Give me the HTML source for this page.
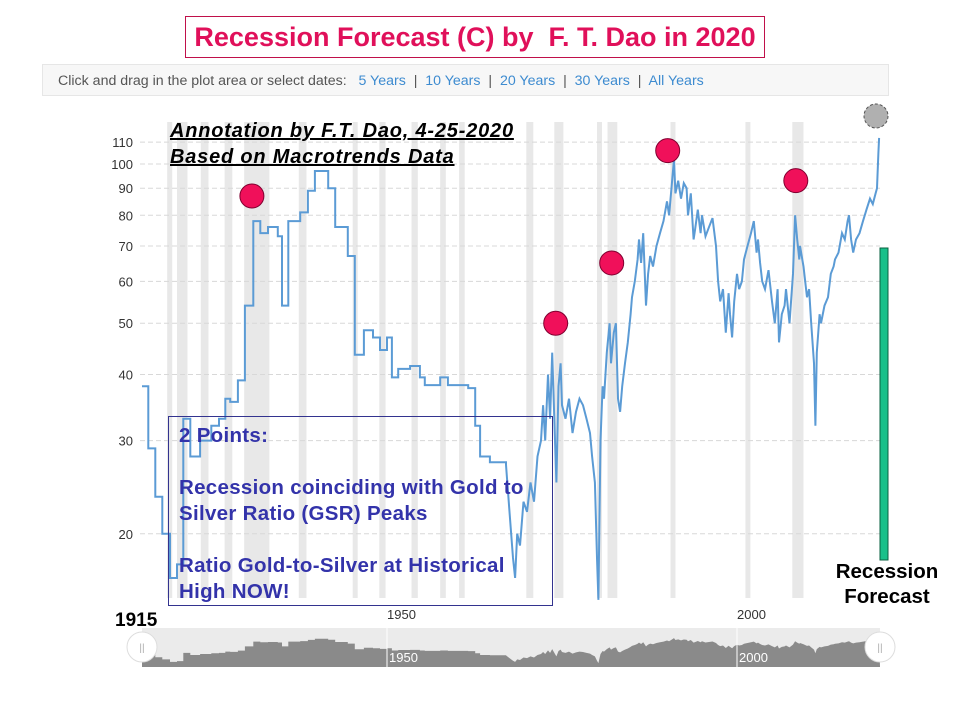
<!DOCTYPE html>
<html><head><meta charset="utf-8"><style>
body{margin:0;background:#fff;width:960px;height:720px;overflow:hidden;font-family:"Liberation Sans",sans-serif}
</style></head><body>
<svg id="c" width="960" height="720" style="position:absolute;left:0;top:0"></svg>
<script>
const recessionStarts=[1918.6,1920.0,1923.4,1926.8,1929.6,1937.4,1945.1,1948.9,1953.5,1957.6,1960.3,1969.9,1973.9,1980.0,1981.5,1990.5,2001.2,2007.9];
const recessionEnds=[1919.2,1921.5,1924.5,1927.9,1933.2,1938.5,1945.8,1949.8,1954.4,1958.4,1961.1,1970.9,1975.2,1980.5,1982.9,1991.2,2001.9,2009.5];
const stepYears=[1915.0,1915.9,1916.9,1917.9,1919.0,1920.0,1920.9,1921.9,1923.3,1924.9,1926.0,1926.9,1927.6,1928.7,1929.7,1930.9,1931.9,1933.0,1934.4,1935.0,1935.9,1937.6,1938.7,1939.7,1941.6,1942.6,1944.4,1945.4,1946.7,1948.0,1949.0,1950.0,1950.7,1951.6,1953.3,1954.7,1955.4,1957.6,1958.7,1961.6,1962.6,1963.3,1964.7,1967.0];
const stepValues=[38,29,23.5,20,16.5,17.5,33,28,30,32,33,36,35.5,39,54,78,74,76,73,54,78,81,89,97,90,76,67,43.6,48.5,47,44.5,47,39.5,41,41.5,39.5,38.2,39.5,38.2,37.7,32,28,27.3,27];
const lineYears=[1967.0,1967.5,1968,1968.3,1968.6,1969,1969.5,1970,1970.5,1971,1971.5,1972,1972.3,1972.6,1973,1973.3,1973.6,1974,1974.2,1974.5,1974.8,1975,1975.5,1976,1976.5,1977,1977.5,1978,1978.5,1979,1979.3,1979.7,1980,1980.2,1980.5,1980.8,1981,1981.4,1981.8,1982,1982.4,1982.7,1983,1983.3,1983.6,1984,1984.4,1984.8,1985,1985.4,1985.8,1986,1986.3,1986.6,1987,1987.3,1987.6,1988,1988.5,1989,1989.5,1990,1990.3,1990.7,1991,1991.2,1991.6,1992,1992.4,1992.8,1993,1993.4,1993.8,1994,1994.4,1994.8,1995,1995.5,1996,1996.5,1997,1997.3,1997.6,1998,1998.4,1998.8,1999,1999.3,1999.6,2000,2000.3,2000.7,2001,2001.5,2002,2002.4,2002.8,2003,2003.3,2003.6,2004,2004.5,2005,2005.4,2005.8,2006,2006.4,2006.8,2007,2007.5,2008,2008.3,2008.6,2008.9,2009,2009.5,2010,2010.3,2010.6,2011,2011.2,2011.4,2011.8,2012,2012.5,2013,2013.4,2013.8,2014,2014.5,2015,2015.4,2015.8,2016,2016.3,2016.6,2017,2017.5,2018,2018.5,2019,2019.4,2019.8,2020.0,2020.2,2020.3];
const lineValues=[27,22,18,16.5,20,19,23,22,25,23,28,30,35,30,40,33,44,30,25,38,42,35,33,36,31,34,36,35,33,31,28,25,18,15,30,38,36,44,50,42,48,50,36,34,38,42,46,52,56,60,66,72,65,74,54,62,67,64,70,74,78,85,80,92,102,88,93,86,92,90,80,88,72,75,82,74,80,73,76,79,70,60,55,58,48,57,52,47,55,62,58,60,66,70,74,78,68,72,65,60,58,63,55,50,58,46,52,54,58,50,62,80,72,66,70,64,56,58,50,42,32,44,52,50,54,56,62,64,66,68,74,72,78,80,72,68,72,74,78,82,86,84,88,90,105,112];
const yTicks=[20,30,40,50,60,70,80,90,100,110];
const peakYears=[1930.7,1974.1,1982.1,1990.1,2008.4];
const peakValues=[87,50,65,106,93];

const NS='http://www.w3.org/2000/svg';
const svg=document.getElementById('c');
function X(y){return 142+(y-1915)*7.0;}
function Y(v){return 164+(Math.log10(100)-Math.log10(v))*529;}
function NY(v){return 666-(Math.log10(v)-Math.log10(12))*30;}
function mk(t,a,p){const e=document.createElementNS(NS,t);for(const k in a)e.setAttribute(k,a[k]);(p||svg).appendChild(e);return e;}

recessionStarts.forEach((s,i)=>{const r=mk('rect',{x:X(s),y:122,width:Math.max(5,X(recessionEnds[i])-X(s)),height:476,fill:'#e8e8e8'});

});
yTicks.forEach(t=>{const l=mk('line',{x1:140,x2:880,y1:Y(t),y2:Y(t),stroke:'#d8d8d8','stroke-dasharray':'5,3'});


const tx=mk('text',{x:133,y:Y(t)+5,'text-anchor':'end','font-size':13,fill:'#333'});tx.textContent=t;

});
let d='';
stepYears.forEach((yr,i)=>{const x=X(yr),y=Y(stepValues[i]);d+=(i?'L'+x+' '+Y(stepValues[i-1])+'L':'M')+x+' '+y;});
d+='L'+X(lineYears[0])+' '+Y(lineValues[0]);
lineYears.forEach((yr,i)=>{d+='L'+X(yr)+' '+Y(lineValues[i]);});
const p=mk('path',{d:d,fill:'none',stroke:'#5b9bd5','stroke-width':2});


peakYears.forEach((yr,i)=>{const c=mk('circle',{cx:X(yr),cy:Y(peakValues[i]),r:12,fill:'#f0105a',stroke:'#800030','stroke-width':1});

});
let nd='M142 667';
stepYears.forEach((yr,i)=>{nd+='L'+X(yr)+' '+NY(stepValues[i]);if(i<stepYears.length-1)nd+='L'+X(stepYears[i+1])+' '+NY(stepValues[i]);});
lineYears.forEach((yr,i)=>{nd+='L'+X(yr)+' '+NY(lineValues[i]);});
nd+='L880 667Z';
window.__nav=nd;
</script>
<svg width="960" height="720" style="position:absolute;left:0;top:0">
<circle cx="876" cy="116" r="12" fill="#b0b0b0" stroke="#555" stroke-dasharray="3,2"/>
<rect x="880" y="248" width="8" height="312" fill="#19c08a" stroke="#0a6040" stroke-width="1"/>
<text x="887" y="578" text-anchor="middle" font-size="20.5" font-weight="bold" fill="#000">Recession</text>
<text x="887" y="603" text-anchor="middle" font-size="20.5" font-weight="bold" fill="#000">Forecast</text>
<g>
<rect x="142" y="628" width="738" height="39" fill="#ebebeb"/>
<path id="navp" fill="#8a8a8a"/>
<line x1="387" x2="387" y1="628" y2="667" stroke="#fff"/>
<line x1="737" x2="737" y1="628" y2="667" stroke="#fff"/>
<text x="389" y="662" font-size="13" fill="#fff">1950</text>
<text x="739" y="662" font-size="13" fill="#fff">2000</text>
<circle cx="142" cy="647" r="15" fill="#fff" stroke="#ddd"/>
<circle cx="880" cy="647" r="15" fill="#fff" stroke="#ddd"/>
<text x="142" y="651" font-size="10" fill="#aaa" text-anchor="middle">||</text>
<text x="880" y="651" font-size="10" fill="#aaa" text-anchor="middle">||</text>
</g>
<text x="387" y="619" font-size="13" fill="#333">1950</text>
<text x="737" y="619" font-size="13" fill="#333">2000</text>
<text x="115" y="626" font-size="19" font-weight="bold" fill="#000">1915</text>
</svg>
<script>document.getElementById('navp').setAttribute('d',window.__nav);</script>

<div style="position:absolute;left:185px;top:16px;width:578px;height:40px;border:1px solid #c0104a;color:#e0105a;font-weight:bold;font-size:27px;text-align:center;line-height:40px;background:#fff;white-space:nowrap">Recession Forecast (C) by&nbsp; F. T. Dao in 2020</div>
<div style="position:absolute;left:42px;top:64px;width:847px;height:32px;background:#f7f7f7;border:1px solid #e6e6e6;font-size:14.2px;color:#555;line-height:33px;box-sizing:border-box;padding-left:15px;white-space:nowrap">Click and drag in the plot area or select dates:&nbsp;&nbsp;
<span style="color:#3d8bd0">5 Years</span> &nbsp;|&nbsp; <span style="color:#3d8bd0">10 Years</span> &nbsp;|&nbsp; <span style="color:#3d8bd0">20 Years</span> &nbsp;|&nbsp; <span style="color:#3d8bd0">30 Years</span> &nbsp;|&nbsp; <span style="color:#3d8bd0">All Years</span></div>
<div style="position:absolute;left:170px;top:118px;font-size:20px;letter-spacing:0.8px;font-weight:bold;font-style:italic;text-decoration:underline;line-height:26px;color:#000;white-space:nowrap">Annotation by F.T. Dao, 4-25-2020<br>Based on Macrotrends Data</div>
<div style="position:absolute;left:168px;top:416px;width:385px;height:190px;border:1px solid #33338f;box-sizing:border-box;color:#3333aa;font-weight:bold;font-size:20.5px;letter-spacing:0.3px;line-height:26px;padding:6px 0 0 10px;white-space:nowrap">2 Points:<br><br>Recession coinciding with Gold to<br>Silver Ratio (GSR) Peaks<br><br>Ratio Gold-to-Silver at Historical<br>High NOW!</div>
</body></html>
